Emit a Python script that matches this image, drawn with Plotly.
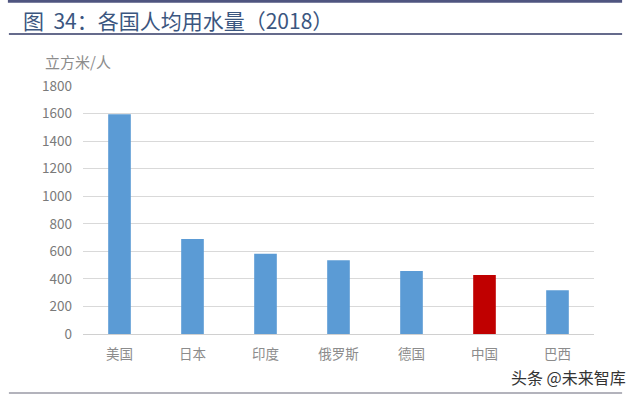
import plotly.graph_objects as go

categories = ["美国", "日本", "印度", "俄罗斯", "德国", "中国", "巴西"]
values = [1595, 690, 583, 535, 457, 428, 317]
colors = ["#5B9BD5", "#5B9BD5", "#5B9BD5", "#5B9BD5", "#5B9BD5", "#C00000", "#5B9BD5"]
y_ticks = [0, 200, 400, 600, 800, 1000, 1200, 1400, 1600, 1800]

font_cjk = "Noto Sans CJK SC"

fig = go.Figure()
fig.add_trace(go.Bar(x=categories, y=values, marker=dict(color=colors, line=dict(width=0)),
                     width=0.31, showlegend=False))

fig.update_layout(
    width=640, height=396,
    margin=dict(l=83, r=46, t=86, b=62),
    paper_bgcolor="white", plot_bgcolor="white",
    font=dict(family=font_cjk, color="#7f7f7f"),
    xaxis=dict(showgrid=False, showline=False, zeroline=False, ticks="",
               tickfont=dict(size=13.5, color="#8c8c8c"), ticklabelstandoff=10),
    yaxis=dict(range=[0, 1800], tickvals=y_ticks, showgrid=True, gridcolor="#D9D9D9",
               gridwidth=1.3, zeroline=True, zerolinecolor="#D0D0D0", zerolinewidth=1.3,
               showline=False, ticks="", tickfont=dict(size=13.5, color="#7a7a7a"),
               ticklabelstandoff=10),
    shapes=[
        dict(type="line", xref="paper", yref="paper", x0=-0.147, x1=1.055, y0=1.3427, y1=1.3427,
             line=dict(color="#4f5580", width=3.5)),
        dict(type="line", xref="paper", yref="paper", x0=-0.145, x1=1.055, y0=1.2097, y1=1.2097,
             line=dict(color="#656b8c", width=2)),
        dict(type="line", xref="paper", yref="paper", x0=-0.145, x1=1.055, y0=-0.238, y1=-0.238,
             line=dict(color="#9a9aa6", width=1.5)),
    ],
    annotations=[
        dict(text="图  34：各国人均用水量（2018）", xref="paper", yref="paper",
             x=-0.121, y=1.266, xanchor="left", yanchor="middle", showarrow=False,
             font=dict(family=font_cjk, size=21, color="#3B5680")),
        dict(text="立方米/人", xref="paper", yref="paper",
             x=-0.079, y=1.097, xanchor="left", yanchor="middle", showarrow=False,
             font=dict(family=font_cjk, size=15, color="#8c8c8c")),
        dict(text="头条 @未来智库", xref="paper", yref="paper",
             x=1.0665, y=-0.173, xanchor="right", yanchor="middle", showarrow=False,
             font=dict(family=font_cjk, size=16, color="#333333")),
    ],
)

fig.write_html("out.html", config={"displayModeBar": False},
               post_script="document.body.style.margin='0';document.body.style.overflow='hidden';")
